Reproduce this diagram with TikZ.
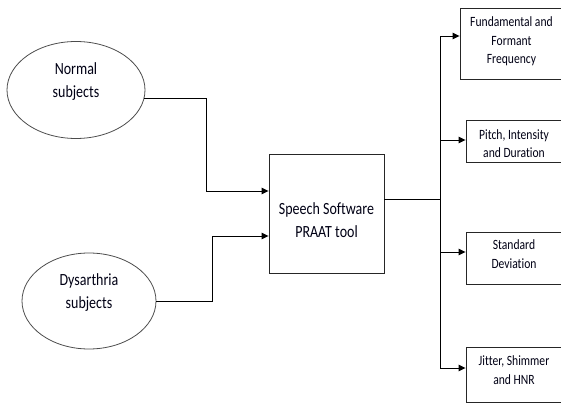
\documentclass[tikz,border=0pt]{standalone}
\usepackage{graphicx}
\usepackage{fontspec}
\setmainfont{Carlito}[Ligatures=NoCommon]
\usetikzlibrary{shapes.geometric,arrows.meta,calc}
\newcommand\vs[1]{\scalebox{1}[1.22]{#1}}
\begin{document}
\begin{tikzpicture}[x=1pt,y=-1pt,
  ell/.style={draw=black!70, line width=0.8pt, ellipse, inner sep=0pt},
  blk/.style={draw=black!85, line width=0.9pt, rectangle, inner sep=0pt},
  txt/.style={align=center, font=\fontsize{14}{23}\selectfont, text=black!92!blue},
  stxt/.style={align=center, font=\fontsize{11.6}{18.5}\selectfont, text=black!92!blue},
  arr/.style={line width=0.9pt, -{Triangle[length=7pt,width=6.5pt]}},
  ln/.style={line width=0.9pt}]
\useasboundingbox (0,0) rectangle (561,403);
\clip (0,0) rectangle (561,403);

\node[ell, minimum width=138pt, minimum height=97pt,
  label={[txt,yshift=8.5pt]center:{\vs{Normal}\\\vs{subjects}}}] (normal) at (76,90) {};
\node[ell, minimum width=134pt, minimum height=96pt,
  label={[txt,yshift=8pt]center:{\vs{Dysarthria}\\\vs{subjects}}}] (dys) at (89,301) {};

\node[blk, minimum width=115pt, minimum height=119pt,
  label={[txt,yshift=-6.5pt]center:{\vs{Speech Software}\\\vs{PRAAT tool}}}] (box) at (326.5,213.5) {};

\node[blk, minimum width=103pt, minimum height=71pt,
  label={[stxt,yshift=2pt]center:{\vs{Fundamental and}\\\vs{Formant}\\\vs{Frequency}}}] (f1) at (511.5,43.5) {};
\node[blk, minimum width=96pt, minimum height=42pt,
  label={[stxt,yshift=-2.5pt]center:{\vs{Pitch, Intensity}\\\vs{and Duration}}}] (f2) at (514,141) {};
\node[blk, minimum width=96pt, minimum height=52pt,
  label={[stxt,yshift=4pt]center:{\vs{Standard}\\\vs{Deviation}}}] (f3) at (514,258) {};
\node[blk, minimum width=96pt, minimum height=55pt,
  label={[stxt,yshift=4.5pt]center:{\vs{Jitter, Shimmer}\\\vs{and HNR}}}] (f4) at (514,374.5) {};

\coordinate (in1) at ([yshift=22.5pt]box.west);
\coordinate (in2) at ([yshift=-22.5pt]box.west);
\coordinate (out) at ([yshift=14.5pt]box.east);
\coordinate (bus) at (440,199);

\draw[arr] (normal.-7) -- ++(62,0) |- (in1);
\draw[arr] (dys.east) -- ++(56,0) |- (in2);
\draw[ln] (out) -- (bus);
\draw[arr] (bus) |- ([yshift=7.5pt]f1.west);
\draw[arr] (bus) |- ([yshift=1pt]f2.west);
\draw[arr] (bus) |- ([yshift=6pt]f3.west);
\draw[arr] (bus) |- ([yshift=6.5pt]f4.west);
\end{tikzpicture}
\end{document}
